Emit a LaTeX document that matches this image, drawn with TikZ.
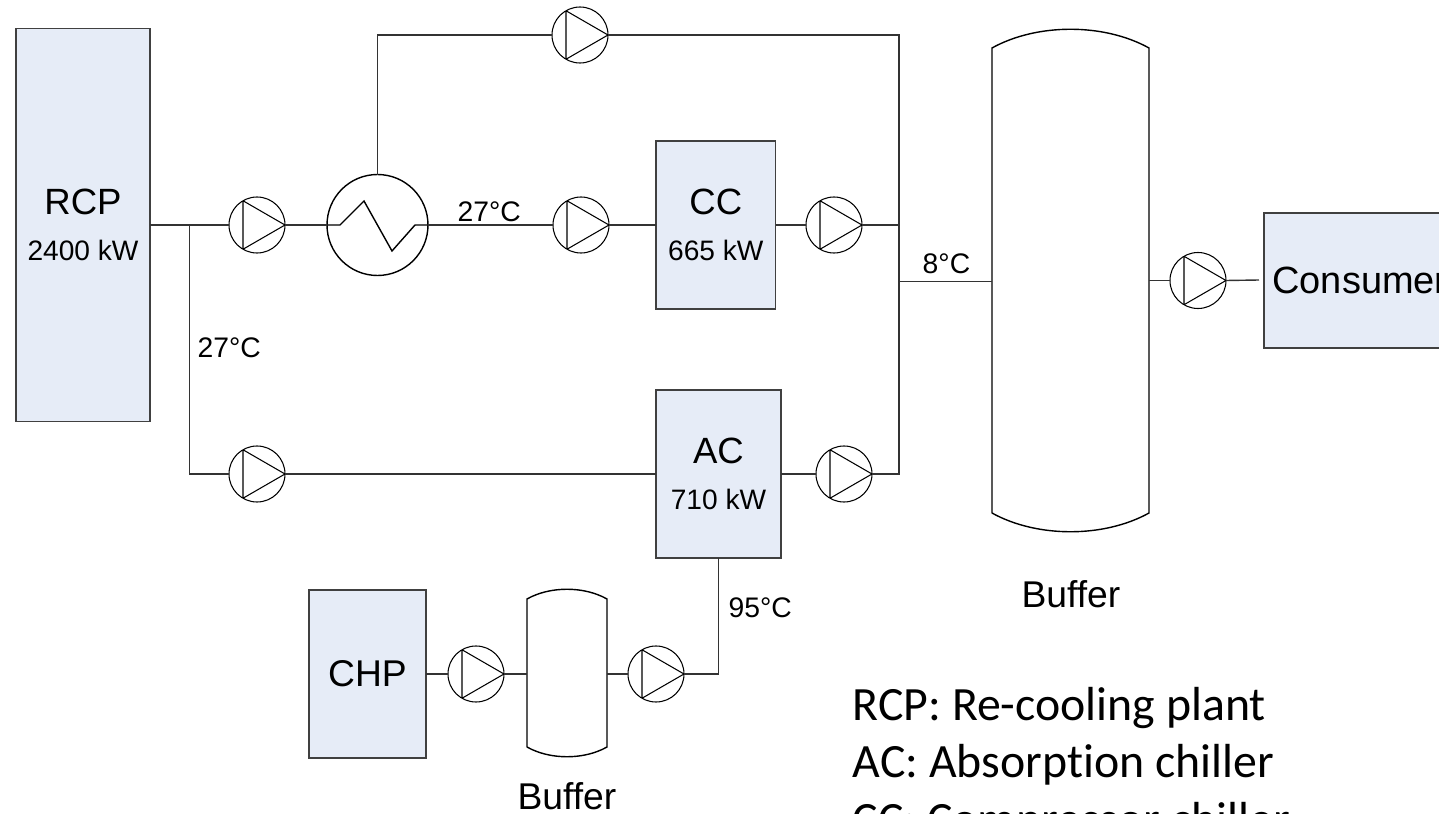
\documentclass[tikz,border=0pt]{standalone}
\usepackage{fontspec}
\usepackage{xcolor}
\usepackage{tikz}
\setmainfont{Liberation Sans}
\newfontfamily\legendfont[Ligatures=NoCommon]{Carlito}
\definecolor{boxblue}{HTML}{E6ECF7}
\newcommand{\kw}[1]{{\fontsize{8.0}{9.4}\selectfont #1}}

\begin{document}
\begin{tikzpicture}[y=-1cm,
    box/.style={draw=black!75, line width=0.4pt, fill=boxblue, inner sep=0pt, outer sep=0pt, align=center,
      font=\fontsize{10.4}{13}\selectfont},
    pump/.style={circle, draw, line width=0.3pt, minimum size=5.6mm, inner sep=0pt, outer sep=0pt,
      path picture={\draw[line width=0.3pt] ([shift={(120:.28)}]path picture bounding box.center)
        -- ([shift={(240:.28)}]path picture bounding box.center)
        -- ([shift={(0:.28)}]path picture bounding box.center) -- cycle;}},
    tank/.style={inner sep=0pt, outer sep=0pt},
    pipe/.style={line width=0.4pt, black!80},
    tag/.style={inner sep=0pt, anchor=base west, font=\fontsize{8.05}{9.4}\selectfont},
    captext/.style={inner sep=0pt, anchor=base, font=\fontsize{10.6}{13}\selectfont},
    legend/.style={inner sep=0pt, anchor=base west, font=\legendfont\fontsize{13.6}{16}\selectfont}]
    \useasboundingbox (0,0) rectangle (14.39,8.14);
    \clip (0,0) rectangle (14.39,8.14);

    \node[box, minimum width=13.4mm, minimum height=39.3mm]  (RCP) at (0.83,2.25)   {RCP\\\kw{2400 kW}};
    \node[box, minimum width=11.95mm, minimum height=16.8mm] (CC)  at (7.158,2.25)  {CC\\\kw{665 kW}};
    \node[box, minimum width=12.5mm, minimum height=16.8mm]  (AC)  at (7.185,4.74)  {AC\\\kw{710 kW}};
    \node[box, minimum width=11.7mm, minimum height=16.8mm, font=\fontsize{10.6}{13}\selectfont] (CHP) at (3.675,6.74) {CHP};
    \node[box, minimum width=19.2mm, minimum height=13.5mm, font=\fontsize{10.8}{13}\selectfont] (CON) at (13.60,2.805) {Consumer};

    \node[pump] (P1) at (2.57,2.25)  {};
    \node[pump] (P2) at (5.80,0.35)  {};
    \node[pump] (P3) at (5.81,2.25)  {};
    \node[pump] (P4) at (8.34,2.25)  {};
    \node[pump] (P5) at (2.57,4.74)  {};
    \node[pump] (P6) at (8.44,4.74)  {};
    \node[pump] (P7) at (11.98,2.805) {};
    \node[pump] (P8) at (4.76,6.74)  {};
    \node[pump] (P9) at (6.56,6.74)  {};

    \node[circle, draw, line width=0.4pt, minimum size=10.1mm, inner sep=0pt, outer sep=0pt] (HX) at (3.775,2.25) {};
    \draw[line width=0.4pt] (HX.west) -- ++(.13,0) -- ++(.24,-.24) -- ++(.28,.50) -- ++(.23,-.26) -- (HX.east);

    \node[tank, minimum width=15.7mm, minimum height=46.5mm] (BT) at (10.705,2.805) {};
    \node[tank, minimum width=8mm, minimum height=14.8mm]    (ST) at (5.67,6.73)    {};
    \draw[line width=0.4pt] (BT.south west) -- (BT.north west) .. controls +(.45,-.25) and +(-.45,-.25) .. (BT.north east)
      -- (BT.south east) .. controls +(-.45,.25) and +(.45,.25) .. (BT.south west);
    \draw[line width=0.4pt] (ST.south west) -- (ST.north west) .. controls +(.23,-.13) and +(-.23,-.13) .. (ST.north east)
      -- (ST.south east) .. controls +(-.23,.13) and +(.23,.13) .. (ST.south west);

    \coordinate (J1) at (1.895,2.25);
    \coordinate (J2) at (8.99,2.815);
    \coordinate (E1) at (12.59,2.80);

    \draw[pipe] (RCP.east) -- (P1.west);
    \draw[pipe] (P1.east) -- (HX.west);
    \draw[pipe] (HX.east) -- (P3.west);
    \draw[pipe] (P3.east) -- (P3.east -| CC.west);
    \draw[pipe] (HX.north) |- (P2.west);
    \draw[pipe] (P2.east) -| (J2);
    \draw[pipe] (CC.east) -- (P4.west);
    \draw[pipe] (P4.east) -- (P4.east -| J2);
    \draw[pipe] (J1) |- (P5.west);
    \draw[pipe] (P5.east) -- (AC.west);
    \draw[pipe] (AC.east) -- (P6.west);
    \draw[pipe] (P6.east) -| (J2);
    \draw[pipe] (J2) -- (J2 -| BT.west);
    \draw[pipe] (BT.east) -- (P7.west);
    \draw[pipe] (P7.east) -- (E1);
    \draw[pipe] (CHP.east) -- (P8.west);
    \draw[pipe] (P8.east) -- (P8.east -| ST.west);
    \draw[pipe] (P9.west -| ST.east) -- (P9.west);
    \draw[pipe] (P9.east) -| (AC.south);

    \node[tag] (T1) at (4.57,2.21)  {27°C};
    \node[tag] (T2) at (1.97,3.57)  {27°C};
    \node[tag] (T3) at (9.22,2.74)  {8°C};
    \node[tag] (T4) at (7.28,6.18)  {95°C};
    \node[captext] (B1) at (10.71,6.07) {Buffer};
    \node[captext] (B2) at (5.67,8.09)  {Buffer};

    \node[legend] (L1) at (8.52,7.20) {RCP: Re-cooling plant};
    \node[legend] (L2) at (8.52,7.77) {AC: Absorption chiller};
    \node[legend] (L3) at (8.52,8.35) {CC: Compressor chiller};
  \end{tikzpicture}
\end{document}
